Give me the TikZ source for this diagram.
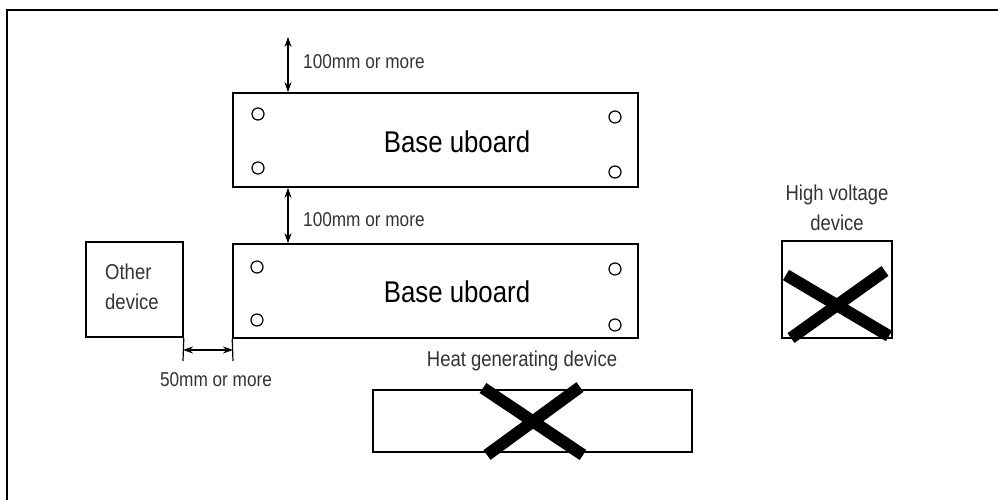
\documentclass[tikz,border=0pt]{standalone}
\usepackage{fontspec}
\setmainfont{Liberation Sans}
\newfontfamily\lblfont[FakeStretch=0.86]{Liberation Sans}
\newfontfamily\bigfont[FakeStretch=0.86]{Liberation Sans}
\usetikzlibrary{arrows.meta}
\begin{document}
\begin{tikzpicture}[x=1pt,y=-1pt,
  box/.style={draw=black,line width=1.6pt,inner sep=0pt},
  hole/.style={draw=black,line width=1.2pt,circle,minimum size=12pt,inner sep=0pt},
  lbl/.style={font=\lblfont\fontsize{20}{23}\selectfont,text=black!80,inner sep=0pt},
  devlbl/.style={font=\lblfont\fontsize{21.5}{30}\selectfont,text=black!80,inner sep=0pt},
  title/.style={font=\bigfont\fontsize{30}{34}\selectfont,inner sep=0pt,anchor=base},
  dim/.style={line width=1.2pt,{Stealth[length=10pt,width=7pt]}-{Stealth[length=10pt,width=7pt]}},
  ext/.style={line width=1.2pt},
  cross/.style={line width=12pt,line cap=butt}]
\useasboundingbox (0,0) rectangle (998,500);
% frame
\draw[line width=2pt] (7,500) -- (7,10) -- (998,10);

% top board
\node[box,minimum width=405pt,minimum height=94pt] (b1) at (435.5,140) {};
\node[title] (t1) at (457,152) {Base uboard};
\node[hole] (h1) at (258,114) {};
\node[hole] (h2) at (258,168) {};
\node[hole] (h3) at (615,117) {};
\node[hole] (h4) at (615,172) {};

% bottom board
\node[box,minimum width=405pt,minimum height=94pt] (b2) at (435.5,291) {};
\node[title] (t2) at (457,302) {Base uboard};
\node[hole] (h5) at (257,267) {};
\node[hole] (h6) at (257,320) {};
\node[hole] (h7) at (615,269) {};
\node[hole] (h8) at (615,325) {};

% top dimension
\coordinate (a0) at (288,37);
\draw[dim] (a0) -- (a0 |- b1.north);
\node[lbl,anchor=west] (l1) at (303,62) {100mm or more};

% middle dimension
\draw[dim] (b1.south -| a0) -- (b2.north -| a0);
\node[lbl,anchor=west] (l2) at (303,220) {100mm or more};

% other device
\node[box,minimum width=97pt,minimum height=95pt] (od) at (134.5,289.5) {};
\node[devlbl,align=left,anchor=north west] (odl) at (105,264) {Other\\device};
\coordinate (e1) at (183,361);
\coordinate (e2) at (233,361);
\draw[ext] (od.south east) -- (e1);
\draw[ext] (b2.south west) -- (e2);
\coordinate (d1) at (183,350);
\coordinate (d2) at (233,350);
\draw[dim] (d1) -- (d2);
\node[lbl] (l3) at (216,380) {50mm or more};

% heat generating device
\node[devlbl] (hl) at (522,361) {Heat generating device};
\node[box,minimum width=319pt,minimum height=62pt] (hd) at (532.5,421) {};
\coordinate (x1) at (483,388);
\coordinate (x2) at (583,455);
\coordinate (x3) at (580,387);
\coordinate (x4) at (487,455);
\draw[cross] (x1) -- (x2);
\draw[cross] (x3) -- (x4);

% high voltage device
\node[devlbl,align=center] (hvl) at (837,208) {High voltage\\device};
\node[box,minimum width=110pt,minimum height=97pt] (hv) at (837,289.5) {};
\coordinate (y1) at (786,275);
\coordinate (y2) at (889,336);
\coordinate (y3) at (885,271);
\coordinate (y4) at (791,338);
\draw[cross] (y1) -- (y2);
\draw[cross] (y3) -- (y4);
\end{tikzpicture}
\end{document}
